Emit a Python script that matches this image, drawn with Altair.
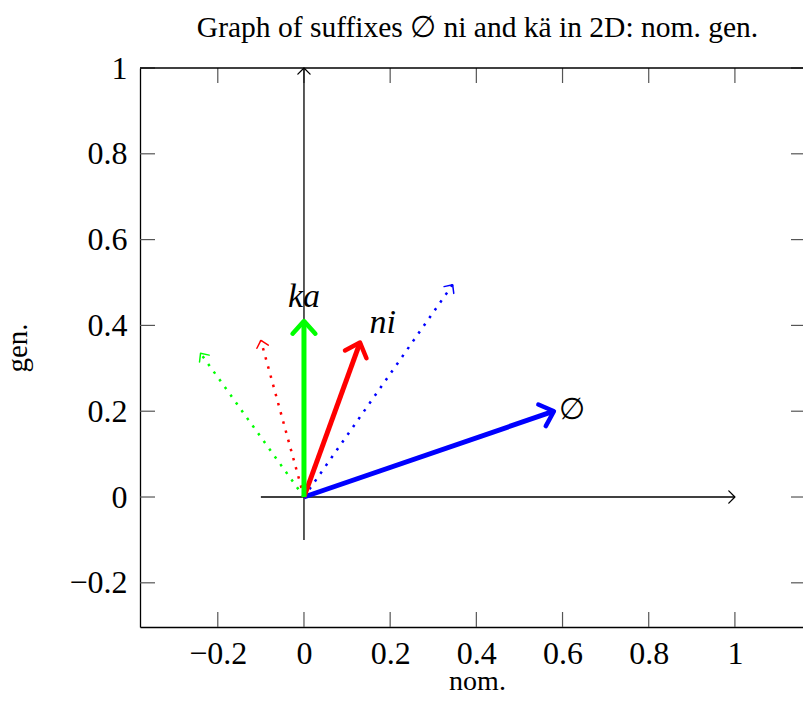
import altair as alt
import pandas as pd

# ---------------- data ----------------
vec_names = ["∅", "ni", "ka"]
vec_colors = ["#0000ff", "#ff0000", "#00ff00"]
origin_x = [0.0, 0.0, 0.0]
origin_y = [0.0, 0.0, 0.0]
solid_x = [0.58, 0.13, 0.0]
solid_y = [0.20, 0.36, 0.41]
dotted_x = [0.345, -0.10, -0.24]
dotted_y = [0.495, 0.365, 0.335]
label_x = [0.622, 0.183, 0.0]
label_y = [0.203, 0.405, 0.466]
label_style = ["normal", "italic", "italic"]

axis_x0 = [-0.1, 0.0]
axis_y0 = [0.0, -0.1]
axis_x1 = [1.0, 0.0]
axis_y1 = [0.0, 1.0]

x_ticks = [-0.2, 0.0, 0.2, 0.4, 0.6, 0.8, 1.0]
y_ticks = [-0.2, 0.0, 0.2, 0.4, 0.6, 0.8, 1.0]
x_range = [-0.3805, 1.158]
y_range = [-0.303, 1.0]

title_text = "Graph of suffixes ∅ ni and kä in 2D: nom. gen."
x_title = "nom."
y_title = "gen."

# ---------------- tables ----------------
solid_df = pd.DataFrame({"name": vec_names, "col": vec_colors,
                         "x0": origin_x, "y0": origin_y, "x1": solid_x, "y1": solid_y})
dotted_df = pd.DataFrame({"name": vec_names, "col": vec_colors,
                          "x0": origin_x, "y0": origin_y, "x1": dotted_x, "y1": dotted_y})
label_df = pd.DataFrame({"name": vec_names, "lx": label_x, "ly": label_y, "style": label_style})
axis_df = pd.DataFrame({"x0": axis_x0, "y0": axis_y0, "x1": axis_x1, "y1": axis_y1})
xt_df = pd.DataFrame({"v": x_ticks})
yt_df = pd.DataFrame({"v": y_ticks})
one_df = pd.DataFrame({"a": [0]})

W, H = 663, 559
FONT = "Liberation Serif"
TICK = 15

xs = alt.Scale(domain=x_range, nice=False, zero=False)
ys = alt.Scale(domain=y_range, nice=False, zero=False)

ANG = "(450 - atan2(datum.y1 - datum.y0, datum.x1 - datum.x0) * 180 / PI) % 360"
CHEV = "M -1 1.1 L 0 0 L 1 1.1"

x_axis = alt.Axis(values=x_ticks, format=".1~f", ticks=False, tickSize=0, grid=False,
                  domain=True, domainColor="black", domainWidth=1.3,
                  labelFont=FONT, labelFontSize=32, labelColor="black", labelPadding=11,
                  labelFlush=False, labelOverlap=False,
                  title=x_title, titleFont=FONT, titleFontSize=28, titleFontWeight="normal",
                  titleColor="black", titleBaseline="alphabetic", titleY=62, titleX=337)
y_axis = alt.Axis(values=y_ticks, format=".1~f", ticks=False, tickSize=0, grid=False,
                  domain=True, domainColor="black", domainWidth=1.3,
                  labelFont=FONT, labelFontSize=32, labelColor="black", labelPadding=13,
                  labelFlush=False, labelOverlap=False,
                  title=y_title, titleFont=FONT, titleFontSize=29, titleFontWeight="normal",
                  titleColor="black", titleBaseline="alphabetic", titleAngle=270,
                  titleX=-114, titleY=H / 2)


def X(f):
    return alt.X(f, scale=xs, axis=x_axis)


def Y(f):
    return alt.Y(f, scale=ys, axis=y_axis)


tick_style = dict(color="#555555", strokeWidth=1.2)

bottom_ticks = alt.Chart(xt_df).mark_rule(**tick_style).encode(
    x=X("v:Q"), y=alt.value(H - TICK), y2=alt.value(H))
left_ticks = alt.Chart(yt_df).mark_rule(**tick_style).encode(
    y=Y("v:Q"), x=alt.value(0), x2=alt.value(TICK))
top_ticks = alt.Chart(xt_df).mark_rule(**tick_style).encode(
    x=X("v:Q"), y=alt.value(0), y2=alt.value(TICK))
right_ticks = alt.Chart(yt_df).mark_rule(**tick_style).encode(
    y=Y("v:Q"), x=alt.value(W - 12), x2=alt.value(W))
top_frame = alt.Chart(one_df).mark_rule(color="black", strokeWidth=1.3).encode(
    x=alt.value(0), x2=alt.value(W), y=alt.value(0))

axis_lines = alt.Chart(axis_df).mark_rule(color="black", strokeWidth=1.3).encode(
    x=X("x0:Q"), y=Y("y0:Q"), x2="x1:Q", y2="y1:Q")
axis_heads = alt.Chart(axis_df).transform_calculate(ang=ANG).mark_point(
    shape="M -1 1 L 0 0 L 1 1", size=150, color="black", strokeWidth=1.3,
    strokeJoin="round", strokeCap="round", opacity=1).encode(
    x=X("x1:Q"), y=Y("y1:Q"), angle=alt.Angle("ang:Q", scale=None))

dotted_lines = alt.Chart(dotted_df).mark_rule(strokeWidth=2.5, strokeDash=[2.5, 7],
                                               strokeCap="butt").encode(
    x=X("x0:Q"), y=Y("y0:Q"), x2="x1:Q", y2="y1:Q",
    color=alt.Color("col:N", scale=None))
dotted_heads = alt.Chart(dotted_df).transform_calculate(ang=ANG).mark_point(
    shape=CHEV, size=140, strokeWidth=1.5, strokeJoin="round", strokeCap="round",
    opacity=1).encode(
    x=X("x1:Q"), y=Y("y1:Q"), angle=alt.Angle("ang:Q", scale=None),
    color=alt.Color("col:N", scale=None))

solid_lines = alt.Chart(solid_df).mark_rule(strokeWidth=5, strokeCap="butt").encode(
    x=X("x0:Q"), y=Y("y0:Q"), x2="x1:Q", y2="y1:Q",
    color=alt.Color("col:N", scale=None))
solid_heads = alt.Chart(solid_df).transform_calculate(ang=ANG).mark_point(
    shape=CHEV, size=520, strokeWidth=4.5, strokeJoin="round", strokeCap="round",
    opacity=1).encode(
    x=X("x1:Q"), y=Y("y1:Q"), angle=alt.Angle("ang:Q", scale=None),
    color=alt.Color("col:N", scale=None))

labels_it = alt.Chart(label_df).transform_filter("datum.style == 'italic'").mark_text(
    font=FONT, fontSize=34, fontStyle="italic", color="black", baseline="middle",
    align="center").encode(x=X("lx:Q"), y=Y("ly:Q"), text="name:N")
labels_up = alt.Chart(label_df).transform_filter("datum.style == 'normal'").mark_text(
    font="DejaVu Serif", fontSize=30, color="black", baseline="middle",
    align="center").encode(x=X("lx:Q"), y=Y("ly:Q"), text="name:N")

chart = alt.layer(
    bottom_ticks, left_ticks, top_ticks, right_ticks, top_frame,
    axis_lines, axis_heads, dotted_lines, dotted_heads, solid_lines, solid_heads,
    labels_it, labels_up,
).properties(
    width=W, height=H,
    title=alt.TitleParams(title_text, font=FONT, fontSize=29.5, fontWeight="normal",
                          color="black", anchor="middle", baseline="alphabetic",
                          offset=19, dy=33, dx=6),
    padding={"left": 132, "top": 60, "right": 0, "bottom": 63},
    autosize=alt.AutoSizeParams(type="none"),
).configure_view(stroke=None)

chart.save("out.html", embed_options={"renderer": "svg", "actions": False})
